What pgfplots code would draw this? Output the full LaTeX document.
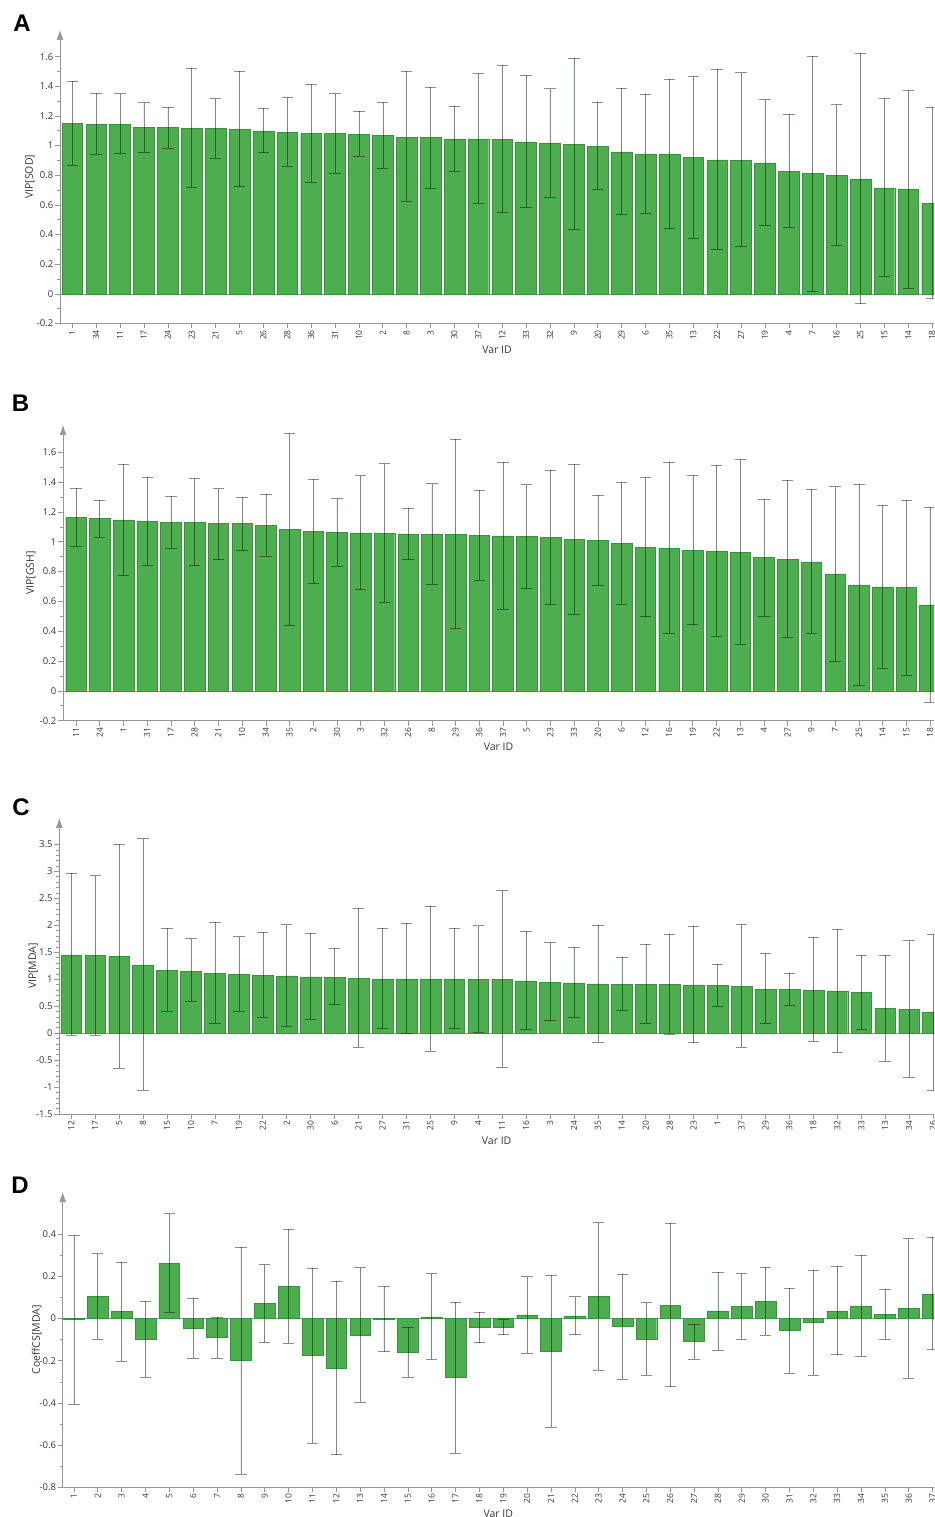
\documentclass[border=0pt]{standalone}
\usepackage{pgfplots}
\pgfplotsset{compat=1.18}
\usepackage{pgfplotstable}
\usetikzlibrary{arrows.meta}
\usepackage{fontspec}
\setmainfont{Open Sans}
\newfontfamily\panelfont{Liberation Sans}

\definecolor{barg}{RGB}{77,174,80}
\definecolor{bard}{RGB}{58,145,62}
\definecolor{axgray}{RGB}{150,150,150}
\definecolor{labgray}{RGB}{55,55,55}

\pgfplotstableread{
x id y hi lo
0 1 1.148 1.436 0.867
1 34 1.144 1.355 0.944
2 11 1.144 1.351 0.946
3 17 1.121 1.290 0.957
4 24 1.121 1.261 0.984
5 23 1.117 1.521 0.719
6 21 1.115 1.317 0.917
7 5 1.110 1.503 0.724
8 26 1.099 1.252 0.953
9 28 1.088 1.324 0.861
10 36 1.081 1.413 0.753
11 31 1.081 1.351 0.816
12 10 1.076 1.231 0.928
13 2 1.070 1.294 0.849
14 8 1.058 1.501 0.625
15 3 1.054 1.393 0.715
16 30 1.045 1.265 0.827
17 37 1.045 1.485 0.613
18 12 1.040 1.542 0.553
19 33 1.025 1.476 0.587
20 32 1.018 1.384 0.654
21 9 1.009 1.591 0.436
22 20 0.996 1.292 0.706
23 29 0.957 1.387 0.535
24 6 0.944 1.348 0.544
25 35 0.944 1.447 0.440
26 13 0.919 1.465 0.378
27 22 0.903 1.517 0.301
28 27 0.901 1.492 0.319
29 19 0.883 1.310 0.463
30 4 0.827 1.211 0.452
31 7 0.811 1.602 0.020
32 16 0.800 1.276 0.328
33 25 0.775 1.625 -0.067
34 15 0.715 1.321 0.117
35 14 0.708 1.375 0.040
36 18 0.609 1.258 -0.031
}\tA

\pgfplotstableread{
x id y hi lo
0 11 1.164 1.359 0.970
1 24 1.158 1.278 1.032
2 1 1.146 1.522 0.773
3 31 1.137 1.432 0.842
4 17 1.131 1.307 0.956
5 28 1.128 1.423 0.840
6 21 1.122 1.356 0.880
7 10 1.122 1.301 0.941
8 34 1.111 1.318 0.903
9 35 1.084 1.730 0.438
10 2 1.068 1.419 0.720
11 30 1.061 1.289 0.838
12 3 1.059 1.444 0.679
13 32 1.057 1.524 0.597
14 26 1.053 1.227 0.880
15 8 1.053 1.390 0.715
16 29 1.050 1.689 0.418
17 36 1.041 1.345 0.744
18 37 1.039 1.533 0.547
19 5 1.035 1.383 0.688
20 23 1.028 1.479 0.583
21 33 1.015 1.520 0.516
22 20 1.008 1.314 0.705
23 6 0.990 1.399 0.583
24 12 0.961 1.430 0.498
25 16 0.956 1.533 0.387
26 19 0.943 1.446 0.445
27 22 0.939 1.513 0.366
28 13 0.930 1.553 0.311
29 4 0.894 1.285 0.501
30 27 0.883 1.415 0.360
31 9 0.865 1.353 0.387
32 7 0.784 1.370 0.201
33 25 0.711 1.385 0.036
34 14 0.697 1.247 0.152
35 15 0.693 1.280 0.107
36 18 0.577 1.234 -0.076
}\tB

\pgfplotstableread{
x id y hi lo
0 12 1.453 2.968 -0.037
1 17 1.441 2.919 -0.031
2 5 1.422 3.500 -0.643
3 8 1.268 3.605 -1.051
4 15 1.169 1.942 0.414
5 10 1.150 1.750 0.588
6 7 1.113 2.059 0.179
7 19 1.095 1.787 0.414
8 22 1.076 1.868 0.291
9 2 1.064 2.010 0.136
10 30 1.045 1.855 0.260
11 6 1.039 1.571 0.532
12 21 1.020 2.313 -0.254
13 27 1.008 1.942 0.087
14 31 1.008 2.041 -0.006
15 25 1.008 2.356 -0.328
16 9 1.008 1.942 0.087
17 4 1.002 1.991 0.012
18 11 1.002 2.641 -0.637
19 16 0.971 1.886 0.074
20 3 0.946 1.676 0.229
21 24 0.934 1.589 0.291
22 35 0.915 1.998 -0.161
23 14 0.909 1.404 0.427
24 20 0.903 1.651 0.179
25 28 0.903 1.831 -0.025
26 23 0.897 1.985 -0.179
27 1 0.884 1.286 0.495
28 37 0.872 2.010 -0.254
29 29 0.816 1.472 0.179
30 36 0.810 1.107 0.513
31 18 0.798 1.775 -0.148
32 32 0.785 1.929 -0.353
33 33 0.754 1.441 0.074
34 13 0.464 1.453 -0.526
35 34 0.439 1.713 -0.823
36 26 0.396 1.837 -1.051
}\tC

\pgfplotstableread{
x id y hi lo
0 1 -0.004 0.394 -0.406
1 2 0.106 0.308 -0.098
2 3 0.035 0.267 -0.201
3 4 -0.096 0.084 -0.277
4 5 0.262 0.498 0.032
5 6 -0.046 0.098 -0.187
6 7 -0.090 0.006 -0.188
7 8 -0.198 0.338 -0.737
8 9 0.071 0.255 -0.111
9 10 0.155 0.425 -0.115
10 11 -0.174 0.240 -0.591
11 12 -0.234 0.177 -0.645
12 13 -0.077 0.242 -0.395
13 14 -0.002 0.152 -0.157
14 15 -0.158 -0.040 -0.277
15 16 0.008 0.213 -0.194
16 17 -0.280 0.077 -0.639
17 18 -0.043 0.030 -0.114
18 19 -0.040 -0.005 -0.076
19 20 0.017 0.199 -0.164
20 21 -0.153 0.206 -0.514
21 22 0.013 0.104 -0.076
22 23 0.104 0.455 -0.243
23 24 -0.036 0.209 -0.286
24 25 -0.096 0.076 -0.269
25 26 0.063 0.454 -0.323
26 27 -0.109 -0.025 -0.193
27 28 0.036 0.220 -0.149
28 29 0.057 0.213 -0.098
29 30 0.082 0.243 -0.077
30 31 -0.055 0.145 -0.259
31 32 -0.017 0.228 -0.267
32 33 0.036 0.250 -0.171
33 34 0.060 0.300 -0.179
34 35 0.019 0.139 -0.098
35 36 0.047 0.379 -0.283
36 37 0.117 0.386 -0.147
}\tD

\pgfplotsset{
  vip/.style={
    scale only axis,
    anchor=south west,
    axis x line=bottom,
    axis y line=left,
    x axis line style={-, draw=axgray, line width=0.7pt},
    y axis line style={-{Latex[length=10pt,width=7pt]}, draw=axgray, line width=0.7pt},
    tick align=outside,
    major tick length=5pt,
    minor tick length=3pt,
    tick style={draw=axgray, line width=0.6pt},
    xtick={0,...,36},
    xticklabel style={rotate=90, anchor=east, font=\fontsize{8.5}{9}\selectfont, text=labgray, inner sep=1.5pt},
    yticklabel style={font=\fontsize{9.5}{10}\selectfont, text=labgray, inner sep=1.5pt},
    /pgf/number format/assume math mode=true,
    xlabel={Var ID},
    xlabel style={font=\fontsize{10.5}{11}\selectfont, text=labgray, at={(axis description cs:0.5,0)}, anchor=center, yshift=-26.5pt},
    ylabel style={font=\fontsize{10.5}{11}\selectfont, text=labgray, anchor=center},
    clip=true,
  },
  vipbar/.style={ybar, bar width=0.87, bar shift=0pt, fill=barg, draw=bard, line width=0.4pt,
    error bars/.cd, y dir=both, y explicit,
    error bar style={draw=black, draw opacity=0.45, line width=0.55pt},
    error mark options={rotate=90, draw=black, draw opacity=0.45, mark size=5.7pt, line width=0.55pt}},
}

\begin{document}
\begin{tikzpicture}[x=1pt,y=1pt]
\useasboundingbox (0,0) rectangle (934,1517);

% Panel A
\node[font=\panelfont\bfseries\fontsize{24}{24}\selectfont] at (22,1493.5) {A};
\begin{axis}[vip, at={(60pt,1193.5pt)}, width=874pt, height=293.5pt,
  xmin=-0.515, xmax=36.08, ymin=-0.2, ymax=1.78,
  ytick={-0.2,0,0.2,0.4,0.6,0.8,1,1.2,1.4,1.6}, minor y tick num=1,
  xticklabels from table={\tA}{id},
  ylabel={VIP[SOD]}, ylabel style={at={([xshift=-30pt]axis description cs:0,0.5)}}]
\addplot[draw=axgray, line width=0.5pt, forget plot] coordinates {(-1,0) (40,0)};
\addplot[vipbar] table[x=x, y=y, y error plus expr=\thisrow{hi}-\thisrow{y}, y error minus expr=\thisrow{y}-\thisrow{lo}] {\tA};
\end{axis}

% Panel B
\node[font=\panelfont\bfseries\fontsize{24}{24}\selectfont] at (20.5,1113.5) {B};
\begin{axis}[vip, at={(63pt,796.3pt)}, width=871pt, height=295.7pt,
  xmin=-0.55, xmax=36.17, ymin=-0.2, ymax=1.783,
  ytick={-0.2,0,0.2,0.4,0.6,0.8,1,1.2,1.4,1.6}, minor y tick num=1,
  xticklabels from table={\tB}{id},
  ylabel={VIP[GSH]}, ylabel style={at={([xshift=-32pt]axis description cs:0,0.5)}}]
\addplot[draw=axgray, line width=0.5pt, forget plot] coordinates {(-1,0) (40,0)};
\addplot[vipbar] table[x=x, y=y, y error plus expr=\thisrow{hi}-\thisrow{y}, y error minus expr=\thisrow{y}-\thisrow{lo}] {\tB};
\end{axis}

% Panel C
\node[font=\panelfont\bfseries\fontsize{24}{24}\selectfont] at (21,710) {C};
\begin{axis}[vip, at={(59.3pt,403pt)}, width=874.7pt, height=296pt,
  xmin=-0.5, xmax=36.04, ymin=-1.5, ymax=3.99,
  ytick={-1.5,-1,-0.5,0,0.5,1,1.5,2,2.5,3,3.5}, minor y tick num=4,
  xticklabels from table={\tC}{id},
  ylabel={VIP[MDA]}, ylabel style={at={([xshift=-26pt]axis description cs:0,0.5)}}]
\addplot[draw=axgray, line width=0.5pt, forget plot] coordinates {(-1,0) (40,0)};
\addplot[vipbar] table[x=x, y=y, y error plus expr=\thisrow{hi}-\thisrow{y}, y error minus expr=\thisrow{y}-\thisrow{lo}] {\tC};
\end{axis}

% Panel D
\node[font=\panelfont\bfseries\fontsize{24}{24}\selectfont] at (20,332) {D};
\begin{axis}[vip, at={(62.7pt,29.7pt)}, width=871.3pt, height=295.3pt,
  xmin=-0.47, xmax=36.06, ymin=-0.8, ymax=0.6,
  ytick={-0.8,-0.6,-0.4,-0.2,0,0.2,0.4}, minor y tick num=1,
  xticklabels from table={\tD}{id},
  ylabel={CoeffCS[MDA]}, ylabel style={at={([xshift=-26pt]axis description cs:0,0.5)}}]
\addplot[draw=axgray, line width=0.5pt, forget plot] coordinates {(-1,0) (40,0)};
\addplot[vipbar] table[x=x, y=y, y error plus expr=\thisrow{hi}-\thisrow{y}, y error minus expr=\thisrow{y}-\thisrow{lo}] {\tD};
\end{axis}
\end{tikzpicture}
\end{document}
